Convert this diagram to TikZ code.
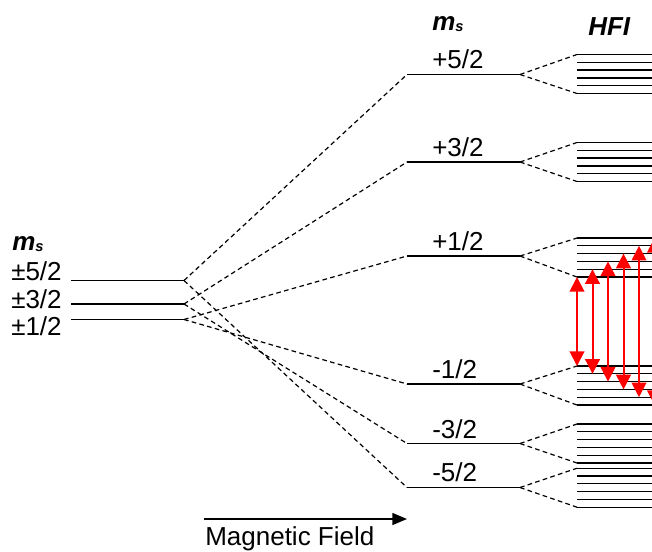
\documentclass[tikz,border=0pt]{standalone}
\usepackage{fontspec}
\setmainfont{Liberation Sans}
\usetikzlibrary{arrows.meta}
\begin{document}
\begin{tikzpicture}[x=0.75pt,y=-0.75pt,
  level/.style={line width=1pt},
  conn/.style={line width=0.9pt, dash pattern=on 3.5pt off 2.5pt},
  hfi/.style={line width=1pt},
  trans/.style={red, line width=1.5pt, {Triangle[length=11pt,width=11pt]}-{Triangle[length=11pt,width=11pt]}},
  field/.style={line width=1pt, -{Triangle[length=11pt,width=9pt]}},
  lab/.style={inner sep=0pt, anchor=base west, font=\fontsize{19.5}{22}\selectfont}]
\useasboundingbox (0,0) rectangle (652,551);
\clip (0,0) rectangle (652,551);
% left (zero-field) levels
\coordinate (a5l) at (71,280.5); \coordinate (a5r) at (184,280.5);
\coordinate (a3l) at (71,304);   \coordinate (a3r) at (184,304);
\coordinate (a1l) at (71,319.5); \coordinate (a1r) at (184,319.5);
\draw[level] (a5l) -- (a5r);
\draw[level] (a3l) -- (a3r);
\draw[level] (a1l) -- (a1r);
\node[lab] (ms1) at (12,250) {\bfseries\itshape m\raisebox{-1pt}{\fontsize{11}{11}\selectfont s}};
\node[lab] (t5) at (11,280) {±5/2};
\node[lab] (t3) at (11,308) {±3/2};
\node[lab] (t1) at (11,335) {±1/2};
% Zeeman levels and hyperfine multiplets
\foreach \n/\y/\c in {p5/74.5/74, p3/162/162, p1/256/257.5, m1/384/385.5, m3/443.5/443.5, m5/487.5/487.7} {
  \coordinate (\n-l) at (407,\y);
  \coordinate (\n-r) at (520,\y);
  \draw[level] (\n-l) -- (\n-r);
  \coordinate (\n-t) at (577,\c-19.5);
  \coordinate (\n-b) at (577,\c+19.5);
  \draw[conn] (\n-r) -- (\n-t);
  \draw[conn] (\n-r) -- (\n-b);
  \foreach \k in {0,...,5} {
    \coordinate (\n-h\k) at (577,\c-19.5+7.8*\k);
    \coordinate (\n-e\k) at (660,\c-19.5+7.8*\k);
    \draw[hfi] (\n-h\k) -- (\n-e\k);
  }
}
\node[lab] (ms2) at (432,30) {\bfseries\itshape m\raisebox{-1pt}{\fontsize{11}{11}\selectfont s}};
\node[lab] (hfi) at (588,35) {\bfseries\itshape HFI};
\node[lab] (tp5) at (432,68) {+5/2};
\node[lab] (tp3) at (432,156.5) {+3/2};
\node[lab] (tp1) at (432,250) {+1/2};
\node[lab] (tm1) at (432,378) {-1/2};
\node[lab] (tm3) at (432,438) {-3/2};
\node[lab] (tm5) at (432,481.5) {-5/2};
% connectors from zero field
\draw[conn] (a5r) -- (p5-l);
\draw[conn] (a5r) -- (m5-l);
\draw[conn] (a3r) -- (p3-l);
\draw[conn] (a3r) -- (m3-l);
\draw[conn] (a1r) -- (p1-l);
\draw[conn] (a1r) -- (m1-l);
% EPR transitions
\foreach \i in {0,...,5} {
  \coordinate (u\i) at (577+15.5*\i,277-7.8*\i);
  \coordinate (d\i) at (577+15.5*\i,366+7.8*\i);
  \draw[trans] (u\i) -- (d\i);
}
% magnetic field arrow
\coordinate (mf0) at (204,519);
\coordinate (mf1) at (407,519);
\draw[field] (mf0) -- (mf1);
\node[lab] (mft) at (205,545) {Magnetic Field};
\end{tikzpicture}
\end{document}
